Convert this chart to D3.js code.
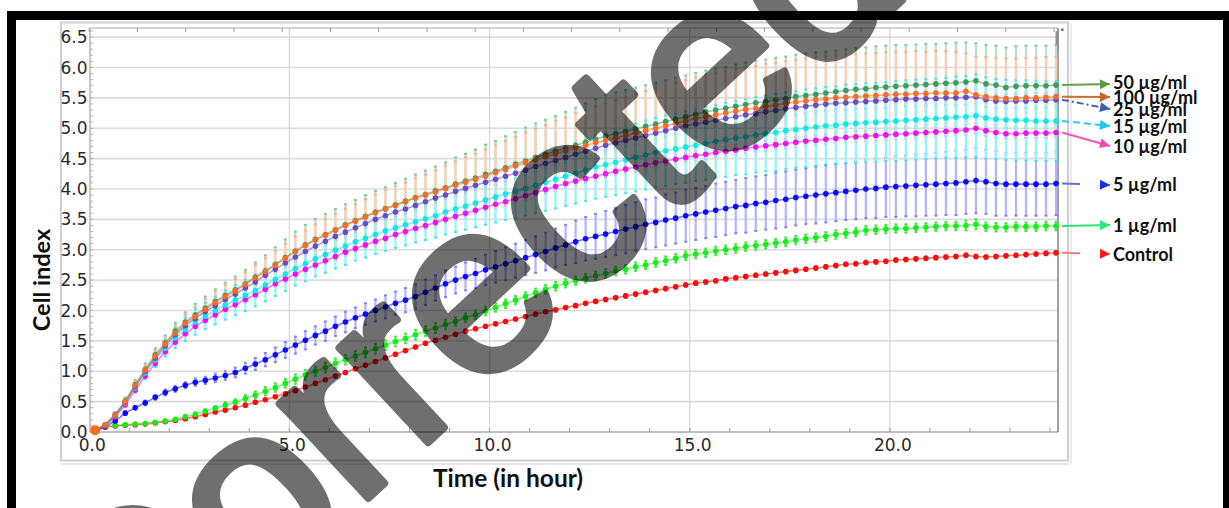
<!DOCTYPE html>
<html>
<head>
<meta charset="utf-8">
<script src="https://cdn.jsdelivr.net/npm/d3@7"></script>
<style>
  html, body { margin: 0; padding: 0; background: #fff; }
  svg { display: block; }
</style>
</head>
<body>
<svg id="chart" width="1229" height="508"></svg>
<script>
// Sweep times (hours), one reading every 15 minutes
const hours = [0.15,0.4,0.65,0.9,1.15,1.4,1.65,1.9,2.15,2.4,2.65,2.9,3.15,3.4,3.65,3.9,4.15,4.4,4.65,4.9,
  5.15,5.4,5.65,5.9,6.15,6.4,6.65,6.9,7.15,7.4,7.65,7.9,8.15,8.4,8.65,8.9,9.15,9.4,9.65,9.9,
  10.15,10.4,10.65,10.9,11.15,11.4,11.65,11.9,12.15,12.4,12.65,12.9,13.15,13.4,13.65,13.9,14.15,14.4,14.65,14.9,
  15.15,15.4,15.65,15.9,16.15,16.4,16.65,16.9,17.15,17.4,17.65,17.9,18.15,18.4,18.65,18.9,19.15,19.4,19.65,19.9,
  20.15,20.4,20.65,20.9,21.15,21.4,21.65,21.9,22.15,22.4,22.65,22.9,23.15,23.4,23.65,23.9,24.15];

// Mean cell index per treatment
const control = [0.02,0.08,0.10,0.11,0.12,0.13,0.15,0.17,0.19,0.22,
  0.25,0.29,0.33,0.36,0.40,0.44,0.49,0.53,0.58,0.63,
  0.68,0.74,0.80,0.86,0.92,0.98,1.04,1.10,1.16,1.22,
  1.28,1.34,1.40,1.46,1.51,1.56,1.61,1.66,1.70,1.74,
  1.78,1.82,1.86,1.90,1.94,1.98,2.01,2.05,2.08,2.12,
  2.15,2.18,2.21,2.24,2.27,2.30,2.33,2.36,2.39,2.42,
  2.45,2.47,2.49,2.52,2.54,2.56,2.58,2.60,2.62,2.64,
  2.66,2.68,2.70,2.72,2.74,2.76,2.77,2.79,2.80,2.81,
  2.83,2.84,2.85,2.86,2.87,2.88,2.89,2.91,2.89,2.88,
  2.89,2.90,2.91,2.92,2.93,2.94,2.95];
const dose1 = [0.02,0.09,0.11,0.12,0.13,0.14,0.16,0.18,0.21,0.25,
  0.29,0.34,0.39,0.44,0.49,0.55,0.61,0.67,0.73,0.80,
  0.87,0.94,1.00,1.06,1.13,1.19,1.25,1.31,1.37,1.43,
  1.49,1.54,1.60,1.66,1.71,1.77,1.82,1.88,1.93,1.99,
  2.05,2.11,2.17,2.23,2.29,2.35,2.40,2.45,2.49,2.53,
  2.57,2.61,2.65,2.68,2.72,2.75,2.79,2.82,2.86,2.90,
  2.93,2.95,2.98,3.00,3.02,3.05,3.07,3.09,3.11,3.13,
  3.16,3.18,3.20,3.22,3.25,3.27,3.29,3.32,3.33,3.34,
  3.35,3.35,3.36,3.37,3.38,3.39,3.39,3.40,3.42,3.38,
  3.37,3.37,3.38,3.38,3.38,3.39,3.39];
const dose5 = [0.02,0.09,0.18,0.31,0.40,0.48,0.57,0.65,0.71,0.77,
  0.82,0.85,0.89,0.93,0.98,1.05,1.12,1.19,1.27,1.35,
  1.43,1.51,1.59,1.66,1.74,1.81,1.88,1.94,2.00,2.06,
  2.12,2.17,2.23,2.30,2.37,2.44,2.50,2.56,2.61,2.67,
  2.72,2.77,2.82,2.87,2.92,2.97,3.03,3.08,3.13,3.18,
  3.22,3.26,3.30,3.34,3.38,3.42,3.45,3.49,3.52,3.56,
  3.59,3.62,3.65,3.68,3.71,3.73,3.76,3.78,3.81,3.83,
  3.86,3.88,3.90,3.92,3.94,3.96,3.98,4.00,4.01,4.03,
  4.04,4.05,4.06,4.07,4.08,4.09,4.10,4.12,4.14,4.12,
  4.09,4.08,4.08,4.08,4.08,4.08,4.09];
const dose10 = [0.03,0.10,0.25,0.45,0.69,0.92,1.13,1.32,1.48,1.62,
  1.74,1.84,1.93,2.02,2.10,2.18,2.26,2.35,2.44,2.52,
  2.60,2.68,2.75,2.82,2.89,2.96,3.02,3.08,3.14,3.19,
  3.25,3.30,3.35,3.40,3.45,3.50,3.55,3.60,3.65,3.70,
  3.75,3.79,3.84,3.89,3.94,3.99,4.04,4.09,4.13,4.17,
  4.21,4.25,4.29,4.33,4.36,4.40,4.43,4.46,4.49,4.52,
  4.55,4.57,4.60,4.62,4.64,4.67,4.69,4.71,4.73,4.75,
  4.77,4.79,4.80,4.82,4.83,4.85,4.86,4.87,4.88,4.89,
  4.90,4.91,4.92,4.93,4.94,4.95,4.96,4.97,5.00,4.96,
  4.93,4.91,4.91,4.92,4.92,4.92,4.93];
const dose15 = [0.03,0.11,0.27,0.48,0.73,0.97,1.19,1.38,1.55,1.69,
  1.81,1.91,2.00,2.09,2.17,2.25,2.33,2.42,2.51,2.60,
  2.69,2.77,2.85,2.92,2.99,3.06,3.13,3.19,3.25,3.31,
  3.36,3.41,3.46,3.51,3.56,3.62,3.67,3.72,3.77,3.82,
  3.87,3.92,3.96,4.01,4.06,4.11,4.16,4.21,4.26,4.31,
  4.36,4.40,4.44,4.48,4.52,4.56,4.60,4.63,4.66,4.69,
  4.72,4.75,4.78,4.81,4.84,4.86,4.89,4.91,4.93,4.96,
  4.98,5.00,5.02,5.04,5.05,5.07,5.08,5.09,5.10,5.11,
  5.12,5.13,5.14,5.15,5.16,5.17,5.18,5.19,5.21,5.17,
  5.15,5.14,5.13,5.13,5.12,5.12,5.12];
const dose25 = [0.03,0.11,0.27,0.49,0.75,1.00,1.22,1.42,1.60,1.75,
  1.87,1.98,2.08,2.18,2.27,2.37,2.47,2.58,2.68,2.78,
  2.88,2.97,3.06,3.14,3.22,3.29,3.36,3.43,3.50,3.56,
  3.62,3.67,3.73,3.79,3.85,3.90,3.96,4.01,4.06,4.11,
  4.16,4.21,4.26,4.31,4.37,4.42,4.47,4.52,4.57,4.62,
  4.67,4.72,4.76,4.80,4.84,4.88,4.92,4.96,5.00,5.04,
  5.07,5.10,5.13,5.16,5.19,5.22,5.24,5.27,5.29,5.32,
  5.34,5.36,5.38,5.40,5.41,5.42,5.43,5.44,5.45,5.46,
  5.47,5.48,5.48,5.49,5.49,5.50,5.50,5.51,5.52,5.47,
  5.45,5.44,5.45,5.45,5.46,5.46,5.47];
const dose100 = [0.03,0.12,0.28,0.50,0.77,1.02,1.25,1.45,1.63,1.79,
  1.90,2.02,2.13,2.23,2.32,2.43,2.54,2.64,2.75,2.86,
  2.97,3.07,3.16,3.24,3.32,3.40,3.47,3.54,3.61,3.67,
  3.73,3.79,3.85,3.90,3.95,4.01,4.06,4.11,4.16,4.21,
  4.27,4.32,4.38,4.43,4.48,4.53,4.58,4.63,4.68,4.72,
  4.76,4.80,4.84,4.88,4.92,4.96,5.00,5.04,5.08,5.12,
  5.16,5.19,5.22,5.25,5.28,5.31,5.33,5.36,5.38,5.41,
  5.43,5.45,5.47,5.48,5.50,5.51,5.52,5.53,5.54,5.55,
  5.56,5.56,5.57,5.57,5.58,5.58,5.58,5.61,5.55,5.52,
  5.50,5.49,5.49,5.50,5.50,5.51,5.52];
const dose50 = [0.03,0.12,0.29,0.51,0.78,1.03,1.27,1.47,1.66,1.81,
  1.93,2.04,2.15,2.25,2.34,2.44,2.55,2.65,2.76,2.87,
  2.98,3.08,3.17,3.25,3.33,3.41,3.48,3.55,3.62,3.68,
  3.74,3.80,3.86,3.91,3.97,4.02,4.08,4.13,4.18,4.24,
  4.29,4.35,4.41,4.46,4.52,4.57,4.62,4.67,4.72,4.77,
  4.82,4.87,4.91,4.95,4.99,5.03,5.07,5.11,5.15,5.19,
  5.23,5.27,5.30,5.33,5.36,5.39,5.42,5.44,5.47,5.49,
  5.52,5.54,5.56,5.58,5.60,5.62,5.64,5.65,5.67,5.68,
  5.69,5.70,5.71,5.72,5.73,5.74,5.75,5.76,5.78,5.73,
  5.71,5.67,5.69,5.70,5.70,5.70,5.71];

// Standard deviation per treatment
const controlSd = [0.01,0.01,0.01,0.01,0.01,0.01,0.01,0.01,0.01,0.01,
  0.01,0.01,0.01,0.02,0.02,0.02,0.02,0.02,0.02,0.02,
  0.02,0.02,0.02,0.02,0.02,0.02,0.02,0.02,0.02,0.02,
  0.02,0.02,0.02,0.02,0.02,0.02,0.02,0.02,0.02,0.02,
  0.02,0.02,0.02,0.02,0.02,0.02,0.02,0.02,0.02,0.02,
  0.03,0.03,0.03,0.03,0.03,0.03,0.03,0.03,0.03,0.03,
  0.03,0.03,0.03,0.03,0.03,0.03,0.03,0.03,0.03,0.03,
  0.03,0.03,0.03,0.03,0.03,0.03,0.03,0.03,0.03,0.03,
  0.03,0.03,0.03,0.03,0.03,0.03,0.03,0.03,0.03,0.03,
  0.03,0.03,0.03,0.03,0.03,0.03,0.03];
const dose1Sd = [0.01,0.01,0.01,0.01,0.01,0.02,0.02,0.02,0.02,0.03,
  0.03,0.04,0.04,0.05,0.05,0.06,0.06,0.07,0.07,0.07,
  0.08,0.08,0.08,0.08,0.08,0.08,0.08,0.08,0.08,0.08,
  0.08,0.08,0.08,0.08,0.08,0.08,0.07,0.07,0.07,0.07,
  0.07,0.07,0.07,0.07,0.07,0.07,0.07,0.07,0.07,0.07,
  0.07,0.07,0.07,0.07,0.07,0.07,0.07,0.07,0.07,0.07,
  0.07,0.07,0.07,0.07,0.07,0.07,0.07,0.07,0.07,0.07,
  0.07,0.07,0.07,0.07,0.07,0.07,0.07,0.07,0.07,0.07,
  0.07,0.07,0.07,0.07,0.07,0.07,0.07,0.08,0.08,0.07,
  0.07,0.07,0.07,0.07,0.07,0.07,0.07];
const dose5Sd = [0.01,0.02,0.02,0.03,0.03,0.04,0.04,0.05,0.05,0.05,
  0.06,0.06,0.07,0.07,0.08,0.09,0.10,0.11,0.12,0.13,
  0.14,0.15,0.15,0.16,0.16,0.17,0.17,0.18,0.18,0.19,
  0.19,0.20,0.20,0.21,0.21,0.22,0.22,0.23,0.24,0.25,
  0.26,0.27,0.28,0.29,0.30,0.31,0.32,0.33,0.35,0.36,
  0.37,0.38,0.39,0.40,0.40,0.41,0.41,0.42,0.42,0.43,
  0.43,0.43,0.44,0.44,0.44,0.45,0.45,0.45,0.46,0.46,
  0.46,0.46,0.47,0.47,0.47,0.47,0.48,0.48,0.49,0.49,
  0.50,0.50,0.51,0.51,0.52,0.52,0.53,0.53,0.54,0.53,
  0.53,0.52,0.52,0.52,0.52,0.52,0.52];
const dose10Sd = [0.01,0.02,0.02,0.03,0.03,0.04,0.04,0.04,0.05,0.05,
  0.05,0.05,0.05,0.05,0.05,0.05,0.05,0.05,0.05,0.05,
  0.06,0.06,0.06,0.06,0.06,0.06,0.06,0.06,0.06,0.06,
  0.06,0.06,0.06,0.06,0.06,0.06,0.06,0.06,0.06,0.06,
  0.07,0.07,0.07,0.07,0.07,0.07,0.07,0.07,0.07,0.07,
  0.07,0.07,0.07,0.07,0.07,0.07,0.07,0.07,0.07,0.07,
  0.08,0.08,0.08,0.08,0.08,0.08,0.08,0.08,0.08,0.08,
  0.08,0.08,0.08,0.08,0.08,0.08,0.08,0.08,0.08,0.08,
  0.08,0.08,0.08,0.08,0.08,0.08,0.08,0.08,0.08,0.08,
  0.08,0.08,0.08,0.08,0.08,0.08,0.08];
const dose15Sd = [0.01,0.02,0.04,0.06,0.08,0.10,0.12,0.14,0.17,0.19,
  0.21,0.22,0.23,0.24,0.25,0.26,0.26,0.27,0.27,0.28,
  0.28,0.29,0.29,0.30,0.30,0.31,0.31,0.32,0.32,0.33,
  0.33,0.34,0.34,0.35,0.36,0.37,0.38,0.39,0.40,0.41,
  0.42,0.43,0.44,0.45,0.46,0.47,0.48,0.49,0.50,0.51,
  0.52,0.53,0.54,0.55,0.56,0.57,0.57,0.58,0.58,0.59,
  0.59,0.60,0.60,0.61,0.61,0.62,0.62,0.62,0.63,0.63,
  0.63,0.64,0.64,0.64,0.64,0.65,0.65,0.65,0.65,0.65,
  0.66,0.66,0.66,0.66,0.66,0.66,0.67,0.67,0.68,0.67,
  0.66,0.66,0.66,0.66,0.66,0.66,0.66];
const dose25Sd = [0.01,0.02,0.02,0.03,0.03,0.04,0.04,0.05,0.05,0.05,
  0.06,0.06,0.06,0.06,0.06,0.06,0.06,0.06,0.06,0.06,
  0.07,0.07,0.07,0.07,0.07,0.07,0.07,0.07,0.07,0.07,
  0.08,0.08,0.08,0.08,0.08,0.08,0.08,0.08,0.08,0.08,
  0.09,0.09,0.09,0.09,0.09,0.09,0.09,0.09,0.09,0.09,
  0.10,0.10,0.10,0.10,0.10,0.10,0.10,0.10,0.10,0.10,
  0.11,0.11,0.11,0.11,0.11,0.11,0.11,0.11,0.11,0.11,
  0.12,0.12,0.12,0.12,0.12,0.12,0.12,0.12,0.12,0.12,
  0.12,0.12,0.12,0.12,0.12,0.12,0.12,0.12,0.12,0.12,
  0.12,0.12,0.12,0.12,0.12,0.12,0.12];
const dose100Sd = [0.02,0.03,0.04,0.05,0.07,0.08,0.10,0.11,0.13,0.14,
  0.16,0.17,0.18,0.19,0.20,0.20,0.21,0.22,0.23,0.24,
  0.25,0.25,0.26,0.27,0.27,0.28,0.28,0.29,0.30,0.31,
  0.32,0.32,0.33,0.34,0.36,0.38,0.39,0.41,0.42,0.44,
  0.45,0.47,0.48,0.50,0.51,0.52,0.54,0.55,0.57,0.58,
  0.60,0.61,0.62,0.63,0.64,0.65,0.66,0.66,0.67,0.67,
  0.68,0.68,0.68,0.69,0.69,0.69,0.69,0.70,0.70,0.70,
  0.70,0.70,0.70,0.70,0.70,0.70,0.70,0.70,0.70,0.70,
  0.70,0.70,0.70,0.69,0.69,0.69,0.68,0.62,0.63,0.65,
  0.66,0.66,0.66,0.66,0.66,0.66,0.66];
const dose50Sd = [0.02,0.03,0.04,0.06,0.08,0.10,0.11,0.12,0.14,0.16,
  0.18,0.19,0.20,0.21,0.22,0.23,0.24,0.26,0.28,0.30,
  0.32,0.33,0.34,0.34,0.34,0.34,0.34,0.35,0.35,0.35,
  0.36,0.37,0.38,0.39,0.40,0.42,0.44,0.45,0.47,0.49,
  0.50,0.52,0.53,0.55,0.56,0.57,0.58,0.60,0.62,0.64,
  0.66,0.68,0.68,0.68,0.68,0.68,0.68,0.68,0.68,0.68,
  0.68,0.68,0.68,0.68,0.69,0.69,0.69,0.69,0.69,0.69,
  0.69,0.69,0.69,0.68,0.68,0.68,0.68,0.68,0.68,0.68,
  0.68,0.67,0.67,0.67,0.66,0.66,0.66,0.65,0.62,0.64,
  0.65,0.66,0.66,0.66,0.66,0.66,0.66];

const seriesNames = ["Control", "1 µg/ml", "5 µg/ml", "10 µg/ml", "15 µg/ml", "25 µg/ml", "50 µg/ml", "100 µg/ml"];
const yTickValues = [0, 0.5, 1, 1.5, 2, 2.5, 3, 3.5, 4, 4.5, 5, 5.5, 6, 6.5];
const xTickValues = [0, 5, 10, 15, 20];
const xAxisTitle = "Time (in hour)";
const yAxisTitle = "Cell index";
const stampText = "Corrected";

// ---- drawing ----
const svg = d3.select("#chart");
const W = 1229, H = 508;
const plot = { left: 90, top: 28, right: 1058, bottom: 432 };

const x = d3.scaleLinear().domain([0.02, 24.2]).range([plot.left, plot.right]);
const y = d3.scaleLinear().domain([0, 6.65]).range([plot.bottom, plot.top]);

const byName = {
  "Control":   { values: control, sd: controlSd },
  "1 µg/ml":   { values: dose1,   sd: dose1Sd },
  "5 µg/ml":   { values: dose5,   sd: dose5Sd },
  "10 µg/ml":  { values: dose10,  sd: dose10Sd },
  "15 µg/ml":  { values: dose15,  sd: dose15Sd },
  "25 µg/ml":  { values: dose25,  sd: dose25Sd },
  "100 µg/ml": { values: dose100, sd: dose100Sd },
  "50 µg/ml":  { values: dose50,  sd: dose50Sd }
};
const look = {
  "Control":   { color: "#ff0a0a", bar: "#ff9a9a", cap: "#ff5050" },
  "1 µg/ml":   { color: "#14f014", bar: "#8ef08e", cap: "#30d830" },
  "5 µg/ml":   { color: "#0a0aff", bar: "#b2b2ff", cap: "#6a6aff" },
  "10 µg/ml":  { color: "#f010f0", bar: "#f4b0f4", cap: "#e070e0" },
  "15 µg/ml":  { color: "#10e8e8", bar: "#8ef6f6", cap: "#30e0e0" },
  "25 µg/ml":  { color: "#6a4cc0", bar: "#c4b8ea", cap: "#9a88d8" },
  "100 µg/ml": { color: "#ff6a22", bar: "#ffcbb2", cap: "#ffa47a" },
  "50 µg/ml":  { color: "#3f9a5c", bar: "#b9e2c4", cap: "#6cc08a" }
};
// error bars are painted in this order; curves follow seriesNames, 100 µg/ml on top
const barOrder = ["50 µg/ml", "100 µg/ml", "25 µg/ml", "5 µg/ml", "10 µg/ml", "15 µg/ml", "1 µg/ml", "Control"];

svg.append("rect").attr("width", W).attr("height", H).attr("fill", "#fff");

// outer panel
svg.append("rect").attr("x", 61).attr("y", 22.5).attr("width", 1007).attr("height", 438)
  .attr("fill", "#fff").attr("stroke", "#cfcfcf").attr("stroke-width", 2);
svg.append("line").attr("x1", 61).attr("x2", 1069).attr("y1", 464).attr("y2", 464)
  .attr("stroke", "#dedede").attr("stroke-width", 1.5);
svg.append("line").attr("x1", 1071).attr("x2", 1071).attr("y1", 24).attr("y2", 464)
  .attr("stroke", "#e4e4e4").attr("stroke-width", 1.5);

// grid
const grid = svg.append("g");
grid.selectAll("line.h").data(yTickValues.filter(v => v > 0)).join("line")
  .attr("x1", plot.left).attr("x2", plot.right)
  .attr("y1", d => y(d)).attr("y2", d => y(d))
  .attr("stroke", "#dcdcdc").attr("stroke-width", 1.6);
grid.selectAll("line.v").data(xTickValues.filter(v => v > 0)).join("line")
  .attr("x1", d => x(d)).attr("x2", d => x(d))
  .attr("y1", plot.top).attr("y2", plot.bottom)
  .attr("stroke", "#d6d6d6").attr("stroke-width", 1.2);

// plot frame
svg.append("line").attr("x1", plot.left).attr("x2", plot.right).attr("y1", plot.top).attr("y2", plot.top)
  .attr("stroke", "#c6c6c6").attr("stroke-width", 1.5);
svg.append("line").attr("x1", plot.left).attr("x2", plot.right).attr("y1", plot.bottom).attr("y2", plot.bottom)
  .attr("stroke", "#a8a8a8").attr("stroke-width", 1.5);
svg.append("line").attr("x1", plot.left).attr("x2", plot.left).attr("y1", plot.top).attr("y2", plot.bottom)
  .attr("stroke", "#b4b4b4").attr("stroke-width", 1.5);
svg.append("line").attr("x1", plot.right).attr("x2", plot.right).attr("y1", plot.top).attr("y2", plot.bottom)
  .attr("stroke", "#a0a0a0").attr("stroke-width", 2);
svg.append("rect").attr("x", plot.right - 2.5).attr("y", 31).attr("width", 3).attr("height", 19).attr("fill", "#8c8c8c");
svg.append("rect").attr("x", 1061).attr("y", 28.5).attr("width", 2.5).attr("height", 2.5).attr("fill", "#e03a3a");

// minor ticks
const ticks = svg.append("g").attr("stroke", "#9a9a9a").attr("stroke-width", 1);
ticks.selectAll("line.b").data(d3.range(1, 25)).join("line")
  .attr("x1", d => x(d)).attr("x2", d => x(d)).attr("y1", plot.bottom).attr("y2", plot.bottom - 4);
ticks.selectAll("line.t").data(d3.range(0, 24.2, 1.205)).join("line")
  .attr("x1", d => x(d)).attr("x2", d => x(d)).attr("y1", plot.top).attr("y2", plot.top + 4);
ticks.selectAll("line.l").data(d3.range(0, 6.61, 0.1)).join("line")
  .attr("x1", plot.left).attr("x2", plot.left + 3).attr("y1", d => y(d)).attr("y2", d => y(d))
  .attr("stroke", "#b0b0b0");

// tick labels
const fmt = d3.format(".1f");
svg.append("g").selectAll("text").data(yTickValues).join("text")
  .attr("x", 87.5).attr("y", d => y(d)).attr("dy", "0.36em")
  .attr("text-anchor", "end").attr("font-family", "DejaVu Sans").attr("font-size", 17)
  .attr("fill", "#2a2a2a").text(fmt);
svg.append("g").selectAll("text").data(xTickValues).join("text")
  .attr("x", d => x(d) + 3).attr("y", 451)
  .attr("text-anchor", "middle").attr("font-family", "DejaVu Sans").attr("font-size", 17)
  .attr("fill", "#2a2a2a").text(fmt);

// axis titles
svg.append("text").attr("x", 508).attr("y", 487).attr("text-anchor", "middle")
  .attr("font-family", "Lato").attr("font-weight", "bold").attr("font-size", 24.5)
  .attr("fill", "#111").text(xAxisTitle);
svg.append("text").attr("transform", "translate(50,280) rotate(-90)").attr("text-anchor", "middle")
  .attr("font-family", "Lato").attr("font-weight", "bold").attr("font-size", 23.5)
  .attr("fill", "#111").text(yAxisTitle);

// error bars
const bars = svg.append("g");
barOrder.forEach(name => {
  const s = byName[name], st = look[name];
  const g = bars.append("g");
  g.selectAll("line.bar").data(hours).join("line")
    .attr("x1", t => x(t)).attr("x2", t => x(t))
    .attr("y1", (t, i) => y(s.values[i] + s.sd[i]))
    .attr("y2", (t, i) => y(s.values[i] - s.sd[i]))
    .attr("stroke", st.bar).attr("stroke-width", 2.2);
  [1, -1].forEach(sign => {
    g.selectAll("rect.cap" + (sign > 0 ? "t" : "b")).data(hours).join("rect")
      .attr("x", t => x(t) - 1.5).attr("width", 3)
      .attr("y", (t, i) => y(s.values[i] + sign * s.sd[i]) - 1).attr("height", 2)
      .attr("fill", st.cap).attr("fill-opacity", 0.8);
  });
});

// curves and markers
const lineGen = d3.line().x(d => x(d[0])).y(d => y(d[1]));
const curves = svg.append("g");
seriesNames.forEach(name => {
  const s = byName[name], st = look[name];
  const pts = hours.map((t, i) => [t, s.values[i]]);
  curves.append("path").attr("d", lineGen(pts)).attr("fill", "none")
    .attr("stroke", st.color).attr("stroke-opacity", 0.55).attr("stroke-width", 1.6);
  curves.append("g").selectAll("circle").data(pts).join("circle")
    .attr("cx", d => x(d[0])).attr("cy", d => y(d[1]))
    .attr("r", (d, i) => (i === 0 && name === "100 µg/ml") ? 5 : 2.8)
    .attr("fill", st.color);
});

// legend arrows and labels
const legend = [
  { name: "50 µg/ml",  stroke: "#67a04a", head: "#5f9a40", dash: null,      tipY: 84,  labelY: 82.5 },
  { name: "100 µg/ml", stroke: "#cf6e2a", head: "#c86424", dash: null,      tipY: 97,  labelY: 98 },
  { name: "25 µg/ml",  stroke: "#4a64a8", head: "#3a5cb4", dash: "7,3,2,3", tipY: 109, labelY: 110 },
  { name: "15 µg/ml",  stroke: "#30c8ec", head: "#18c8f0", dash: "7,4",     tipY: 126, labelY: 127 },
  { name: "10 µg/ml",  stroke: "#ee58b8", head: "#f048b4", dash: null,      tipY: 146, labelY: 147 },
  { name: "5 µg/ml",   stroke: "#6c70c8", head: "#1c2ee0", dash: "18,22",   tipY: 185, labelY: 185 },
  { name: "1 µg/ml",   stroke: "#30e07c", head: "#20f07a", dash: null,      tipY: 225, labelY: 225.5 },
  { name: "Control",   stroke: "#ff7a7a", head: "#ff1818", dash: "18,22",   tipY: 254, labelY: 254.5 }
];
const defs = svg.append("defs");
legend.forEach((d, k) => {
  defs.append("marker").attr("id", "head" + k).attr("viewBox", "0 0 10 10")
    .attr("refX", 10).attr("refY", 5).attr("markerUnits", "userSpaceOnUse")
    .attr("markerWidth", 11).attr("markerHeight", 10).attr("orient", "auto")
    .append("path").attr("d", "M0,0 L10,5 L0,10 Z").attr("fill", d.head);
});
const lg = svg.append("g");
legend.forEach((d, k) => {
  const vals = byName[d.name].values;
  const y0 = y(vals[vals.length - 1]);
  lg.append("path")
    .attr("d", `M1062,${y0} L1110,${d.tipY}`)
    .attr("fill", "none").attr("stroke", d.stroke).attr("stroke-width", 2)
    .attr("stroke-dasharray", d.dash).attr("marker-end", `url(#head${k})`);
  lg.append("text").attr("x", 1113).attr("y", d.labelY).attr("dy", "0.35em")
    .attr("font-family", "Lato").attr("font-weight", "bold").attr("font-size", 18)
    .attr("fill", "#111").text(d.name);
});

// black frame
const frame = svg.append("g").attr("fill", "#000");
frame.append("rect").attr("x", 7).attr("y", 11).attr("width", 1222).attr("height", 9);
frame.append("rect").attr("x", 7).attr("y", 11).attr("width", 9).attr("height", H - 11);
frame.append("rect").attr("x", 1223).attr("y", 11).attr("width", 6).attr("height", H - 11);

// stamp across the figure
svg.append("g").attr("opacity", 0.56)
  .append("text").attr("transform", "translate(127,723) rotate(-43)")
  .attr("font-family", "Liberation Sans").attr("font-size", 245)
  .attr("fill", "#000").attr("stroke", "#000").attr("stroke-width", 8).attr("stroke-linejoin", "round")
  .text(stampText);
</script>
</body>
</html>
